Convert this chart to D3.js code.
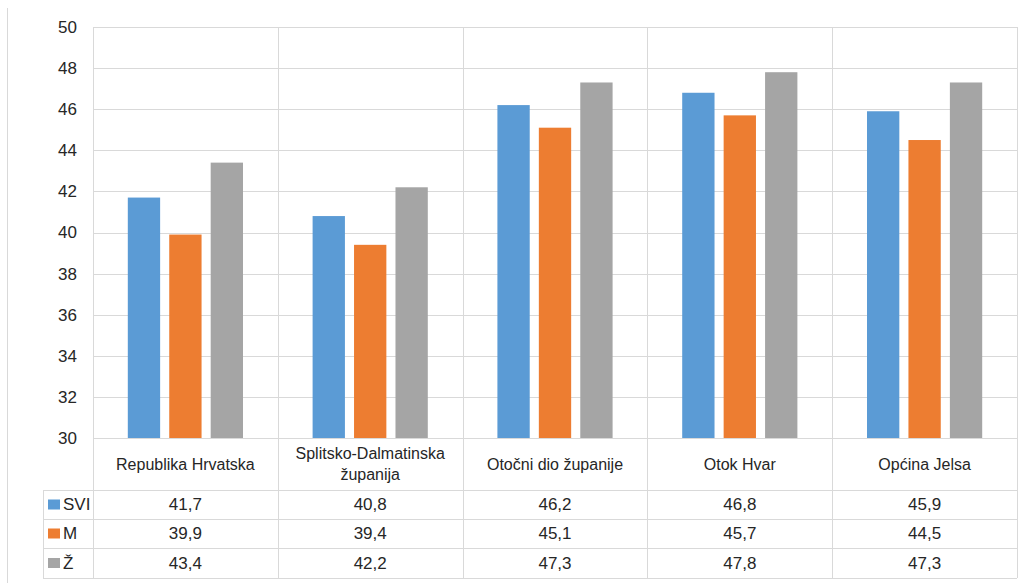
<!DOCTYPE html>
<html><head><meta charset="utf-8">
<script src="https://cdn.jsdelivr.net/npm/d3@7"></script>
<style>
html,body{margin:0;padding:0;background:#fff;}
text{font-family:"Liberation Sans","DejaVu Sans",sans-serif;fill:#262626;}
</style></head>
<body>
<svg id="c" width="1033" height="583"></svg>
<script>
const categories = ["Republika Hrvatska", "Splitsko-Dalmatinska\nžupanija", "Otočni dio županije", "Otok Hvar", "Općina Jelsa"];
const seriesNames = ["SVI", "M", "Ž"];
const seriesColors = ["#5b9bd5", "#ed7d31", "#a5a5a5"];
const valuesSVI = [41.7, 40.8, 46.2, 46.8, 45.9];
const valuesM = [39.9, 39.4, 45.1, 45.7, 44.5];
const valuesZ = [43.4, 42.2, 47.3, 47.8, 47.3];
const yTicks = [30, 32, 34, 36, 38, 40, 42, 44, 46, 48, 50];

const seriesValues = [valuesSVI, valuesM, valuesZ];
const svg = d3.select("#c");
const plotLeft = 93, plotRight = 1017, plotTop = 27, plotBottom = 438;
const tableLeft = 43;
const rowLines = [490, 519, 548, 578];

const x0 = d3.scaleBand().domain(categories).range([plotLeft, plotRight]).padding(0);
const x1 = d3.scaleBand().domain(seriesNames).range([0, x0.bandwidth()]).paddingInner(0.22).paddingOuter(0.84);
const y = d3.scaleLinear().domain([30, 50]).range([plotBottom, plotTop]);

const grid = "#d9d9d9";
svg.append("line").attr("x1", 7.5).attr("x2", 7.5).attr("y1", 8).attr("y2", 583).attr("stroke", grid).attr("stroke-width", 1);

svg.append("g").selectAll("line").data(yTicks).join("line")
  .attr("x1", plotLeft).attr("x2", plotRight)
  .attr("y1", d => Math.round(y(d)) + 0.5).attr("y2", d => Math.round(y(d)) + 0.5)
  .attr("stroke", grid).attr("stroke-width", 1);

const bounds = categories.map(c => x0(c)).concat([plotRight]);
svg.append("g").selectAll("line").data(bounds).join("line")
  .attr("x1", d => Math.round(d) + 0.5).attr("x2", d => Math.round(d) + 0.5)
  .attr("y1", plotTop).attr("y2", rowLines[rowLines.length - 1])
  .attr("stroke", grid).attr("stroke-width", 1);

svg.append("g").selectAll("line").data(rowLines).join("line")
  .attr("x1", tableLeft).attr("x2", plotRight)
  .attr("y1", d => d + 0.5).attr("y2", d => d + 0.5)
  .attr("stroke", grid).attr("stroke-width", 1);
svg.append("line").attr("x1", tableLeft + 0.5).attr("x2", tableLeft + 0.5)
  .attr("y1", rowLines[0]).attr("y2", rowLines[rowLines.length - 1])
  .attr("stroke", grid).attr("stroke-width", 1);

seriesNames.forEach((s, si) => {
  svg.append("g").selectAll("rect").data(categories).join("rect")
    .attr("x", c => x0(c) + x1(s))
    .attr("width", x1.bandwidth())
    .attr("y", (c, i) => y(seriesValues[si][i]))
    .attr("height", (c, i) => y(30) - y(seriesValues[si][i]))
    .attr("fill", seriesColors[si]);
});

const yAxis = d3.axisLeft(y).tickValues(yTicks).tickSize(0).tickPadding(16).tickFormat(d3.format("d"));
const ya = svg.append("g").attr("transform", `translate(${plotLeft},0)`).call(yAxis);
ya.select(".domain").remove();
ya.selectAll("text").style("font-size", "17px").style("font-family", '"Liberation Sans",sans-serif').attr("fill", "#262626");

categories.forEach(c => {
  const lines = c.split("\n");
  const cx = x0(c) + x0.bandwidth() / 2;
  const cy = (plotBottom + rowLines[0]) / 2;
  const t = svg.append("text").attr("text-anchor", "middle").style("font-size", "16px");
  lines.forEach((ln, i) => {
    t.append("tspan").attr("x", cx)
      .attr("y", cy + (i - (lines.length - 1) / 2) * 21)
      .attr("dy", "0.35em").text(ln);
  });
});

seriesNames.forEach((s, si) => {
  const cy = (rowLines[si] + rowLines[si + 1]) / 2;
  svg.append("rect").attr("x", 48).attr("y", cy - 5).attr("width", 12).attr("height", 10).attr("fill", seriesColors[si]);
  svg.append("text").attr("x", 63).attr("y", cy).attr("dy", "0.35em").style("font-size", "17px").text(s);
  svg.append("g").selectAll("text").data(categories).join("text")
    .attr("x", c => x0(c) + x0.bandwidth() / 2)
    .attr("y", cy).attr("dy", "0.35em")
    .attr("text-anchor", "middle").style("font-size", "17px")
    .text((c, i) => d3.format(".1f")(seriesValues[si][i]).replace(".", ","));
});
</script>
</body></html>
